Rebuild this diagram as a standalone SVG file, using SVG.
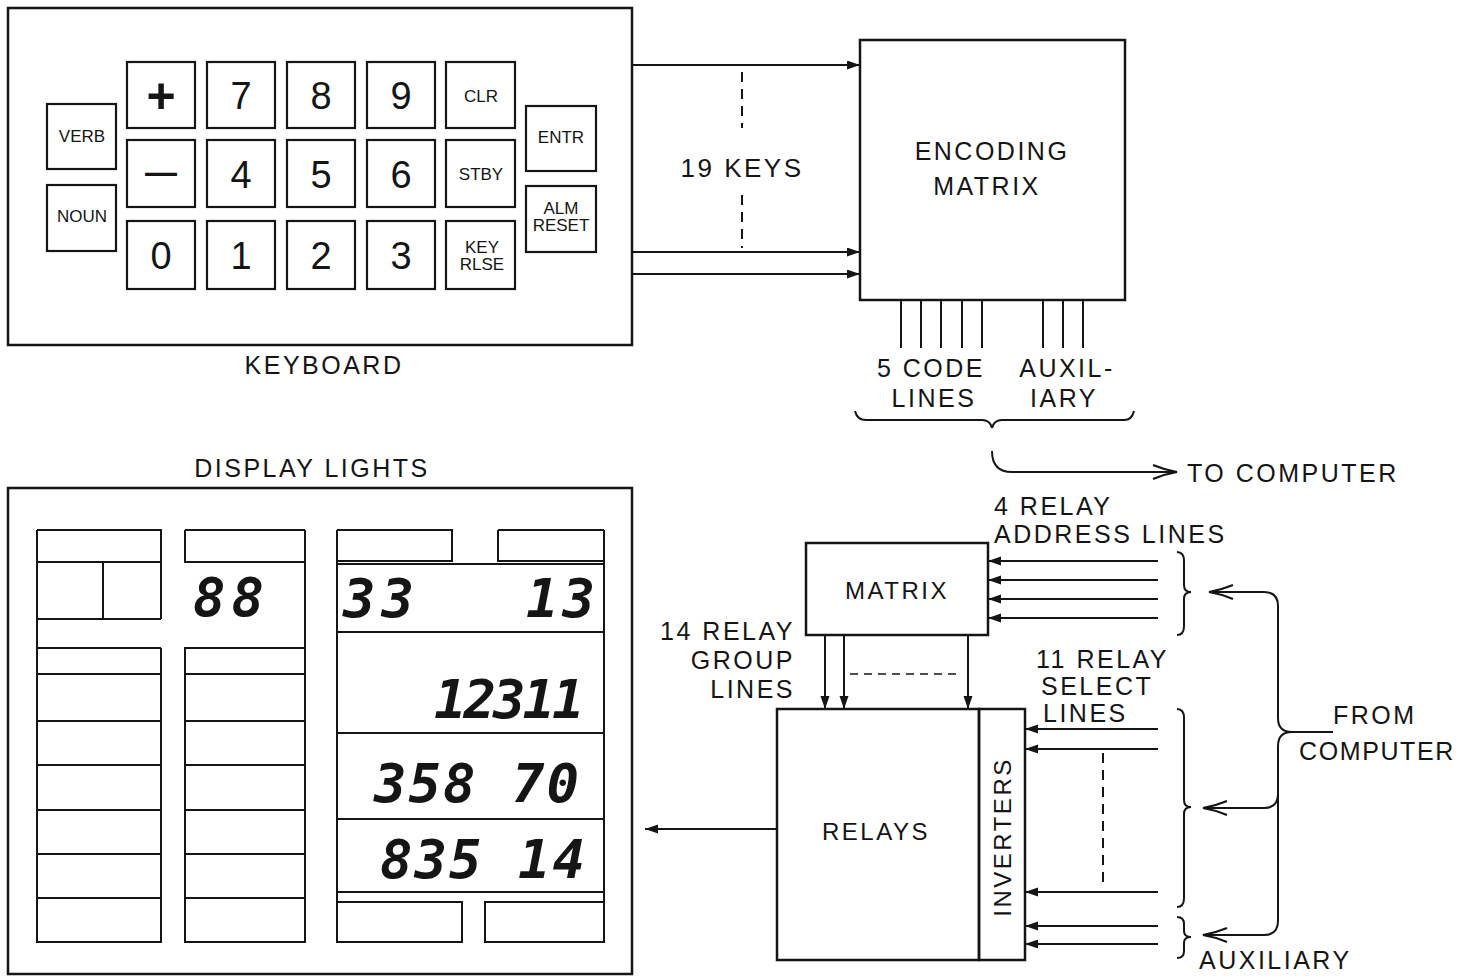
<svg xmlns="http://www.w3.org/2000/svg" width="1463" height="978" viewBox="0 0 1463 978">
<style>
.b{fill:none;stroke:#151515;stroke-width:2.5}
.k{fill:#fff;stroke:#151515;stroke-width:2.2}
.l{fill:none;stroke:#151515;stroke-width:2}
.d{fill:none;stroke:#151515;stroke-width:2;stroke-dasharray:10 7}
.t{font-family:"Liberation Sans",Arial,sans-serif;fill:#151515;font-size:25px;letter-spacing:2.5px}
.s{font-family:"Liberation Sans",Arial,sans-serif;fill:#151515;font-size:17px;text-anchor:middle}
.n{font-family:"Liberation Sans",Arial,sans-serif;fill:#151515;font-size:38px;text-anchor:middle}
.m{text-anchor:middle}
.e{text-anchor:end}
.g{font-family:"DejaVu Sans Mono",monospace;font-weight:bold;font-style:italic;font-size:54px;fill:#151515}
</style>
<defs>
<marker id="af" markerUnits="userSpaceOnUse" markerWidth="14" markerHeight="10" refX="13" refY="4.5" orient="auto"><path d="M0,0 L13,4.5 L0,9 Z" fill="#151515"/></marker>
<marker id="ao" markerUnits="userSpaceOnUse" markerWidth="28" markerHeight="18" refX="26" refY="8" orient="auto"><path d="M2,1 Q14,6 26,8 Q14,10 2,15" fill="none" stroke="#151515" stroke-width="2.2"/></marker>
</defs>
<rect width="1463" height="978" fill="#fff"/>

<g id="keyboard">
<rect class="b" x="8" y="8" width="624" height="337"/>
<text class="t m" x="324" y="374">KEYBOARD</text>
<g id="key-verb"><rect class="k" x="47" y="104" width="69" height="65"/><text class="s" x="82" y="142">VERB</text></g>
<g id="key-noun"><rect class="k" x="47" y="185" width="69" height="66"/><text class="s" x="82" y="222">NOUN</text></g>
<g id="key-plus"><rect class="k" x="127" y="62" width="68" height="66"/><text class="n" x="161" y="113" style="font-size:50px;font-weight:bold">+</text></g>
<g id="key-7"><rect class="k" x="207" y="62" width="68" height="66"/><text class="n" x="241" y="109">7</text></g>
<g id="key-8"><rect class="k" x="287" y="62" width="68" height="66"/><text class="n" x="321" y="109">8</text></g>
<g id="key-9"><rect class="k" x="367" y="62" width="68" height="66"/><text class="n" x="401" y="109">9</text></g>
<g id="key-clr"><rect class="k" x="446" y="62" width="69" height="66"/><text class="s" x="481" y="102">CLR</text></g>
<g id="key-minus"><rect class="k" x="127" y="140" width="68" height="67"/><text class="n" x="161" y="183" style="font-size:32px;font-weight:bold">—</text></g>
<g id="key-4"><rect class="k" x="207" y="140" width="68" height="67"/><text class="n" x="241" y="188">4</text></g>
<g id="key-5"><rect class="k" x="287" y="140" width="68" height="67"/><text class="n" x="321" y="188">5</text></g>
<g id="key-6"><rect class="k" x="367" y="140" width="68" height="67"/><text class="n" x="401" y="188">6</text></g>
<g id="key-stby"><rect class="k" x="446" y="140" width="69" height="67"/><text class="s" x="481" y="180">STBY</text></g>
<g id="key-0"><rect class="k" x="127" y="221" width="68" height="68"/><text class="n" x="161" y="269">0</text></g>
<g id="key-1"><rect class="k" x="207" y="221" width="68" height="68"/><text class="n" x="241" y="269">1</text></g>
<g id="key-2"><rect class="k" x="287" y="221" width="68" height="68"/><text class="n" x="321" y="269">2</text></g>
<g id="key-3"><rect class="k" x="367" y="221" width="68" height="68"/><text class="n" x="401" y="269">3</text></g>
<g id="key-rlse"><rect class="k" x="446" y="221" width="69" height="68"/><text class="s" x="482" y="253">KEY</text><text class="s" x="482" y="270">RLSE</text></g>
<g id="key-entr"><rect class="k" x="526" y="106" width="70" height="65"/><text class="s" x="561" y="143">ENTR</text></g>
<g id="key-alm"><rect class="k" x="526" y="186" width="70" height="66"/><text class="s" x="561" y="214">ALM</text><text class="s" x="561" y="231">RESET</text></g>
</g>

<g id="encoding-matrix">
<rect class="b" x="860" y="40" width="265" height="260"/>
<text class="t m" x="992" y="160">ENCODING</text>
<text class="t m" x="987" y="195">MATRIX</text>
</g>

<g id="display">
<text class="t m" x="312" y="477">DISPLAY LIGHTS</text>
<rect class="b" x="8" y="488" width="624" height="486"/>
<g id="display-left" class="l">
<path d="M37 530 V942 H161 V648 M37 530 H161 V619 M37 562 H161 M103 562 V619 M37 619 H161 M37 648 H161"/>
<path d="M305 530 V942 H185 V648 H305 M185 530 H305 M185 530 V562 H305"/>
<path d="M37 674 H161 M37 721 H161 M37 765 H161 M37 810 H161 M37 854 H161 M37 898 H161"/>
<path d="M185 674 H305 M185 721 H305 M185 765 H305 M185 810 H305 M185 854 H305 M185 898 H305"/>
</g>
<g id="display-right" class="l">
<path d="M337 530 V942 H462 V902 H337 M604 530 V942 H485 V902 H604"/>
<path d="M337 530 H452 V561 H337 M498 530 H604 M498 530 V561 H604"/>
<path d="M337 564 H604 M337 632 H604 M337 733 H604 M337 819 H604 M337 892 H604"/>
</g>
<text class="g" x="193" y="616" style="letter-spacing:6px">88</text>
<text class="g" x="343" y="617" style="letter-spacing:6px">33</text>
<text class="g" x="526" y="617" style="letter-spacing:4px">13</text>
<text class="g" x="434" y="718" style="letter-spacing:-3px">12311</text>
<text class="g" x="374" y="802" style="letter-spacing:2px">358 70</text>
<text class="g" x="380" y="878" style="letter-spacing:2px">835 14</text>
</g>

<g id="matrix">
<rect class="b" x="806" y="543" width="182" height="92"/>
<text class="t m" x="897" y="599" style="font-size:24px">MATRIX</text>
</g>

<g id="relays">
<rect class="b" x="777" y="709" width="202" height="251"/>
<text class="t m" x="876" y="840" style="font-size:24px">RELAYS</text>
</g>
<g id="inverters">
<rect class="b" x="979" y="709" width="46" height="251"/>
<text class="t m" transform="translate(1011 837) rotate(-90)" style="font-size:24px">INVERTERS</text>
</g>

<g id="labels">
<text class="t m" x="742" y="177" style="font-size:26px">19 KEYS</text>
<text class="t m" x="931" y="377">5 CODE</text>
<text class="t m" x="934" y="407">LINES</text>
<text class="t m" x="1067" y="377">AUXIL-</text>
<text class="t m" x="1064" y="407">IARY</text>
<text class="t" x="1187" y="482">TO COMPUTER</text>
<text class="t" x="994" y="515">4 RELAY</text>
<text class="t" x="994" y="543">ADDRESS LINES</text>
<text class="t e" x="795" y="640">14 RELAY</text>
<text class="t e" x="795" y="669">GROUP</text>
<text class="t e" x="795" y="698">LINES</text>
<text class="t" x="1036" y="668">11 RELAY</text>
<text class="t" x="1041" y="695">SELECT</text>
<text class="t" x="1043" y="722">LINES</text>
<text class="t" x="1333" y="724">FROM</text>
<text class="t" x="1299" y="760" style="letter-spacing:1.6px">COMPUTER</text>
<text class="t" x="1199" y="969">AUXILIARY</text>
</g>

<g id="connectors">
<path class="l" d="M632 65 H860" marker-end="url(#af)"/>
<path class="l" d="M632 252 H860" marker-end="url(#af)"/>
<path class="l" d="M632 274 H860" marker-end="url(#af)"/>
<path class="d" d="M742 72 V128 M742 195 V248"/>
<path class="l" d="M901 300 V348 M921 300 V348 M941 300 V348 M962 300 V348 M982 300 V348 M1043 300 V348 M1063 300 V348 M1083 300 V348"/>
<path class="l" d="M855 411 Q857 420 866 420 L982 420 Q990 420 992 428 Q994 420 1002 420 L1124 420 Q1132 420 1134 411"/>
<path class="l" d="M992 451 Q992 472 1012 472 L1177 472" marker-end="url(#ao)"/>
<path class="l" d="M1158 561 H988" marker-end="url(#af)"/>
<path class="l" d="M1158 580 H988" marker-end="url(#af)"/>
<path class="l" d="M1158 599 H988" marker-end="url(#af)"/>
<path class="l" d="M1158 618 H988" marker-end="url(#af)"/>
<path class="l" d="M825 635 V709" marker-end="url(#af)"/>
<path class="l" d="M844 635 V709" marker-end="url(#af)"/>
<path class="l" d="M968 635 V709" marker-end="url(#af)"/>
<path class="d" d="M850 674 H962" style="stroke-width:1.6;stroke-dasharray:8 6"/>
<path class="l" d="M1158 729 H1025" marker-end="url(#af)"/>
<path class="l" d="M1158 749 H1025" marker-end="url(#af)"/>
<path class="l" d="M1158 892 H1025" marker-end="url(#af)"/>
<path class="d" d="M1103 753 V884"/>
<path class="l" d="M1158 926 H1025" marker-end="url(#af)"/>
<path class="l" d="M1158 944 H1025" marker-end="url(#af)"/>
<path class="l" d="M777 829 H645" marker-end="url(#af)"/>
<path class="l" d="M1177 552 Q1184 552 1184 561 L1184 585 Q1184 592 1191 592 Q1184 592 1184 599 L1184 626 Q1184 635 1177 635"/>
<path class="l" d="M1177 709 Q1184 709 1184 718 L1184 800 Q1184 807 1191 807 Q1184 807 1184 814 L1184 898 Q1184 907 1177 907"/>
<path class="l" d="M1177 917 Q1184 917 1184 924 L1184 931 Q1184 937 1191 937 Q1184 937 1184 943 L1184 951 Q1184 958 1177 958"/>
<path class="l" d="M1333 732 H1292 Q1278 732 1278 718 V606 Q1278 592 1264 592 H1209" marker-end="url(#ao)"/>
<path class="l" d="M1292 732 Q1278 732 1278 746 V794 Q1278 808 1264 808 H1203" marker-end="url(#ao)"/>
<path class="l" d="M1278 794 V921 Q1278 935 1264 935 H1203" marker-end="url(#ao)"/>
</g>
</svg>
